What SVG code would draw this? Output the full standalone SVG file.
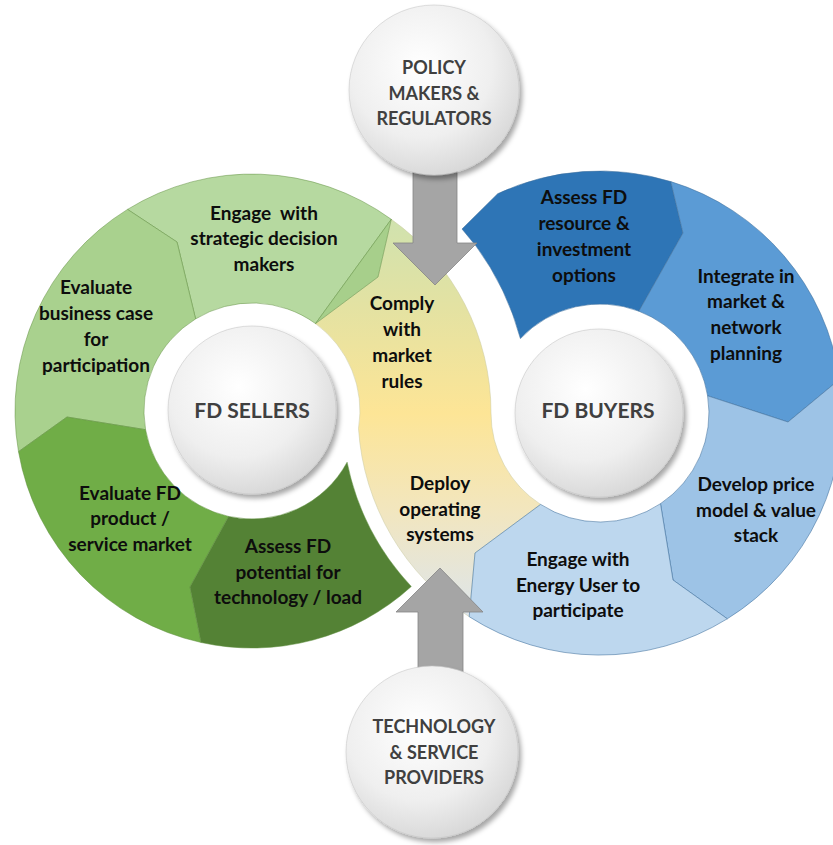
<svg xmlns="http://www.w3.org/2000/svg" width="833" height="845" viewBox="0 0 833 845">
  <defs>
    <linearGradient id="gYellow" gradientUnits="userSpaceOnUse" x1="430" y1="205" x2="430" y2="622">
      <stop offset="0" stop-color="#cde2b0"/>
      <stop offset="0.25" stop-color="#e4e2a2"/>
      <stop offset="0.5" stop-color="#fde596"/>
      <stop offset="0.73" stop-color="#f2e6be"/>
      <stop offset="1" stop-color="#dce5ee"/>
    </linearGradient>
    <radialGradient id="gDisc" cx="0.42" cy="0.36" r="0.7">
      <stop offset="0" stop-color="#ffffff"/>
      <stop offset="0.6" stop-color="#efefef"/>
      <stop offset="1" stop-color="#d4d4d4"/>
    </radialGradient>
    <filter id="shadow" x="-20%" y="-20%" width="140%" height="140%">
      <feDropShadow dx="3" dy="4" stdDeviation="2.5" flood-color="#000000" flood-opacity="0.35"/>
    </filter>
  </defs>
  <style>
    .green { stroke: #5f8f40; stroke-width: 0.7; stroke-opacity: 0.7; }
    .blue { stroke: #3f6f9c; stroke-width: 0.7; stroke-opacity: 0.8; }
    .disc { fill: url(#gDisc); stroke: #c8c8c8; stroke-width: 0.6; filter: url(#shadow); }
    .arrow { fill: #a5a5a5; stroke: #858585; stroke-width: 0.8; }
    .seg { font-family: Lato, "Liberation Sans", sans-serif; font-weight: 700; font-size: 19px; fill: #0d0d0d; text-anchor: middle; }
    .hub { font-family: Lato, "Liberation Sans", sans-serif; font-weight: 700; font-size: 21px; fill: #404040; text-anchor: middle; }
    .ext { font-family: Lato, "Liberation Sans", sans-serif; font-weight: 700; font-size: 18px; fill: #404040; text-anchor: middle; }
  </style>
  <rect width="833" height="845" fill="#ffffff"/>

  <!-- middle yellow segment (crossing) -->
  <g id="comply-deploy">
    <path d="M391.3,219.3 L378,277 L315.5,323.6 A108,108 0 0 1 358.5,428.5 A242,242 0 0 0 469.2,616.7 L475,553 L540.6,504.4 A109,109 0 0 1 491,413 A237,237 0 0 0 391.3,219.3 Z" fill="url(#gYellow)" stroke="#c9c9a0" stroke-width="0.5"/>
    <text class="seg" x="402" y="309.5">Comply</text>
    <text class="seg" x="402" y="335.5">with</text>
    <text class="seg" x="402" y="361.5">market</text>
    <text class="seg" x="402" y="387.5">rules</text>
    <text class="seg" x="440" y="489.5">Deploy</text>
    <text class="seg" x="440" y="515.5">operating</text>
    <text class="seg" x="440" y="540.5">systems</text>
  </g>

  <!-- left ring: FD sellers -->
  <g id="engage-strategic">
    <path class="green" d="M127.5,209.4 A237,237 0 0 1 391.3,219.3 L315.5,323.6 A108,108 0 0 0 195.6,318.9 L177,242 Z" fill="#b6d9a0"/>
    <path class="green" d="M391.3,219.3 L378,277 L315.5,323.6 Z" fill="#a7cf8b"/>
    <text class="seg" x="264" y="219.5" xml:space="preserve">Engage  with</text>
    <text class="seg" x="264" y="245">strategic decision</text>
    <text class="seg" x="264" y="270.5">makers</text>
  </g>
  <g id="evaluate-business-case">
    <path class="green" d="M18.5,451.7 A237,237 0 0 1 127.5,209.4 L177,242 L195.6,318.9 A108,108 0 0 0 145.6,429.7 L67,417 Z" fill="#a9d18e"/>
    <text class="seg" x="96" y="293.5">Evaluate</text>
    <text class="seg" x="96" y="319.5">business case</text>
    <text class="seg" x="96" y="345.5">for</text>
    <text class="seg" x="96" y="371.5">participation</text>
  </g>
  <g id="evaluate-fd-product">
    <path class="green" d="M201.1,642.5 A237,237 0 0 1 18.5,451.7 L67,417 L145.6,429.7 A108,108 0 0 0 228.6,516.4 L190,587 Z" fill="#70ad47"/>
    <text class="seg" x="130" y="499.5">Evaluate FD</text>
    <text class="seg" x="130" y="524.5">product /</text>
    <text class="seg" x="130" y="550.5">service market</text>
  </g>
  <g id="assess-fd-potential">
    <path class="green" d="M411.3,586.5 A237,237 0 0 1 201.1,642.5 L190,587 L228.6,516.4 A108,108 0 0 0 347.1,462.2 A257,257 0 0 0 411.3,586.5 Z" fill="#548235"/>
    <text class="seg" x="288" y="552.5">Assess FD</text>
    <text class="seg" x="288" y="578.5">potential for</text>
    <text class="seg" x="288" y="603.5">technology / load</text>
  </g>

  <!-- right ring: FD buyers -->
  <g id="assess-fd-resource">
    <path class="blue" d="M670.8,181.6 A242,242 0 0 0 497.7,193.7 L462,229 L476,246 A278,278 0 0 1 520.4,338.6 A109,109 0 0 1 638.9,311.2 L683,233 Z" fill="#2e75b6"/>
    <text class="seg" x="584" y="203.5">Assess FD</text>
    <text class="seg" x="584" y="229.5">resource &amp;</text>
    <text class="seg" x="584" y="255.5">investment</text>
    <text class="seg" x="584" y="281.5">options</text>
  </g>
  <g id="integrate-planning">
    <path class="blue" d="M670.8,181.6 A242,242 0 0 1 839.6,379.3 L788,422 L707.6,395.8 A109,109 0 0 0 638.9,311.2 L683,233 Z" fill="#5b9bd5"/>
    <text class="seg" x="746" y="282.5">Integrate in</text>
    <text class="seg" x="746" y="307.5">market &amp;</text>
    <text class="seg" x="746" y="333.5">network</text>
    <text class="seg" x="746" y="359.5">planning</text>
  </g>
  <g id="develop-price-model">
    <path class="blue" d="M727.3,618.8 A242,242 0 0 0 839.6,379.3 L788,422 L707.6,395.8 A109,109 0 0 1 660.5,503.7 L673,580 Z" fill="#9dc3e6"/>
    <text class="seg" x="756" y="490.5">Develop price</text>
    <text class="seg" x="756" y="516.5">model &amp; value</text>
    <text class="seg" x="756" y="541.5">stack</text>
  </g>
  <g id="engage-energy-user">
    <path class="blue" d="M540.6,504.4 L475,553 L469.2,616.7 A242,242 0 0 0 727.3,618.8 L673,580 L660.5,503.7 A109,109 0 0 1 540.6,504.4 Z" fill="#bdd7ee"/>
    <text class="seg" x="578" y="565.5">Engage with</text>
    <text class="seg" x="578" y="591.5">Energy User to</text>
    <text class="seg" x="578" y="616.5">participate</text>
  </g>

  <!-- connectors: the two grey arrows -->
  <g id="connectors">
    <polygon class="arrow" points="413,150 457,150 457,243 477,243 435,285 393,243 413,243"/>
    <polygon class="arrow" points="418,700 418,612 396,612 440,568 483,612 463,612 463,700"/>
  </g>

  <!-- hub discs -->
  <g id="fd-sellers">
    <circle class="disc" cx="252" cy="410" r="84"/>
    <text class="hub" x="252" y="417.5">FD SELLERS</text>
  </g>
  <g id="fd-buyers">
    <circle class="disc" cx="599" cy="413" r="84"/>
    <text class="hub" x="598" y="418">FD BUYERS</text>
  </g>
  <g id="policy-makers">
    <circle class="disc" cx="434" cy="90" r="85"/>
    <text class="ext" x="434" y="74">POLICY</text>
    <text class="ext" x="434" y="99.5">MAKERS &amp;</text>
    <text class="ext" x="434" y="125">REGULATORS</text>
  </g>
  <g id="technology-providers">
    <circle class="disc" cx="432" cy="752" r="86"/>
    <text class="ext" x="434" y="733">TECHNOLOGY</text>
    <text class="ext" x="434" y="758.5">&amp; SERVICE</text>
    <text class="ext" x="434" y="784">PROVIDERS</text>
  </g>
</svg>
